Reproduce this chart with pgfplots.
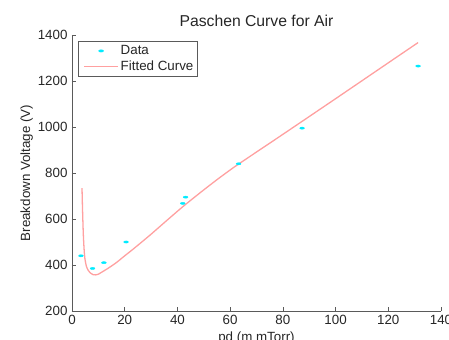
\documentclass[border=0pt]{standalone}
\usepackage{pgfplots}
\pgfplotsset{compat=1.18}
\usepackage{fontspec}
\setmainfont{Liberation Sans}
\definecolor{fitc}{RGB}{255,160,160}
\definecolor{datac}{RGB}{0,235,255}
\definecolor{axc}{RGB}{90,90,90}
\pgfplotsset{
  datalegend/.style={legend image code/.code={\path[draw=none,fill=none] (0,0) -- (38bp,0); \draw[##1] plot coordinates {(21bp,0)};}},
  fitlegend/.style={legend image code/.code={\path[draw=none,fill=none] (0,0) -- (38bp,0); \draw[##1] (4bp,0) -- (38bp,0);}},
}
\begin{document}
\begin{tikzpicture}
\begin{axis}[
  at={(0,0)}, anchor=south west,
  scale only axis, width=369bp, height=276bp,
  xmin=0, xmax=140, ymin=200, ymax=1400,
  xtick={0,20,...,140}, ytick={200,400,...,1400},
  axis x line*=bottom, axis y line*=left,
  axis line style={axc, line width=0.6pt, -},
  tick style={axc, line width=0.6pt},
  tick align=inside,
  major tick length=4bp,
  /pgf/number format/assume math mode=true,
  /pgf/number format/1000 sep={},
  ticklabel style={font=\fontsize{13.4}{15}\selectfont, text=black!85},
  xticklabel style={yshift=-1bp},
  yticklabel style={xshift=-1bp},
  title={Paschen Curve for Air},
  title style={font=\fontsize{15.8}{18}\selectfont, text=black!85, yshift=-1bp},
  xlabel={pd (m mTorr)},
  ylabel={Breakdown Voltage (V)},
  label style={font=\fontsize{13.4}{15}\selectfont, text=black!85},
  xlabel style={yshift=0bp},
  ylabel style={yshift=-2bp},
  legend style={at={(0.017,0.979)}, anchor=north west, draw=axc, line width=0.6pt,
    font=\fontsize{13.4}{15}\selectfont, text=black!85, inner xsep=1.5bp, inner ysep=2.5bp,
    row sep=0.5bp, cells={anchor=west}},
  legend cell align=left,
]
\addplot[only marks, color=datac, mark=*, mark size=1.1pt,
  mark options={xscale=2.2, draw=none, fill=datac}, datalegend]
  coordinates {
  (3.4,440) (7.8,385) (12.1,410) (20.5,500) (42.0,668) (43.1,695)
  (63.2,840) (87.3,995) (131.3,1265)
};
\addlegendentry{Data}
\addplot[color=fitc, line width=1.3pt, smooth, fitlegend]
  coordinates {
  (3.8,734) (4.0,640) (4.3,532) (4.6,467) (4.9,427) (5.5,393) (6.2,376)
  (7,365) (8,358) (9,357) (10,360) (10.6,364) (14,388) (17,412) (20,440)
  (23.3,470) (29.6,530) (35.9,593) (42.2,655) (48.6,714) (54.9,770)
  (61.2,823) (67.5,872) (80,968) (100,1123) (120,1279) (131.3,1367)
};
\addlegendentry{Fitted Curve}
\end{axis}
\pgfresetboundingbox
\path (-72bp,-29bp) rectangle (377bp,311bp);
\end{tikzpicture}
\end{document}
